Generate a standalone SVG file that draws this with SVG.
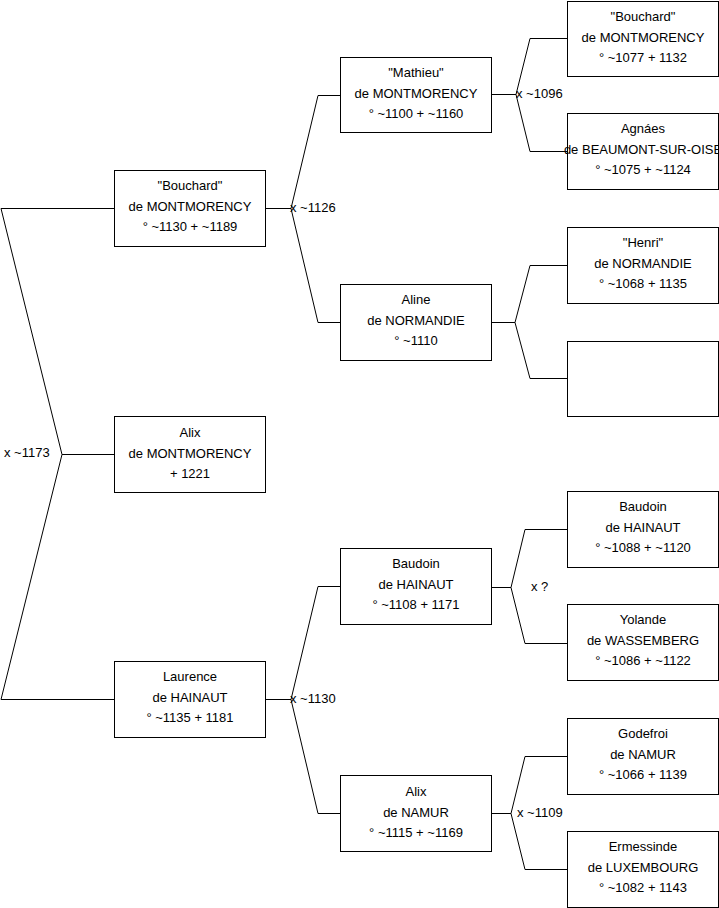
<svg xmlns="http://www.w3.org/2000/svg" width="719" height="908" viewBox="0 0 719 908">
<style>
.b{fill:#fff;stroke:#000;stroke-width:1}
.c{fill:none;stroke:#000;stroke-width:1}
text{font-family:"Liberation Sans",Arial,sans-serif;font-size:13px;fill:#000}
.m{text-anchor:middle}
</style>
<rect width="719" height="908" fill="#fff"/>
<g id="connectors">
<path class="c" d="M1,208.5H114M1,208.5L62,454.5L1,699.5H114M62,454.5H114"/>
<path class="c" d="M265,208.5H291M318,95.5H340M291,208.5L318,95.5M291,208.5L318,322.5H340"/>
<path class="c" d="M265,699.5H291M318,586.5H340M291,699.5L318,586.5M291,699.5L318,813.5H340"/>
<path class="c" d="M491,94.5H516L530,38.5H567M516,94.5L530,151.5H567"/>
<path class="c" d="M491,322.5H515L530,265.5H567M515,322.5L530,378.5H567"/>
<path class="c" d="M491,587.5H511L525,529.5H567M511,587.5L525,643.5H567"/>
<path class="c" d="M491,813.5H511L525,756.5H567M511,813.5L525,869.5H567"/>
<text x="4" y="457">x ~1173</text>
<text x="290" y="212">x ~1126</text>
<text x="290" y="703">x ~1130</text>
<text x="516" y="98">x ~1096</text>
<text x="531" y="591">x ?</text>
<text x="517" y="817">x ~1109</text>
</g>
<g id="n1"><rect class="b" x="114.5" y="170.5" width="151" height="76"/><text class="m" x="190" y="190">"Bouchard"<tspan x="190" dy="20.5">de MONTMORENCY</tspan><tspan x="190" dy="20">° ~1130 + ~1189</tspan></text></g>
<g id="n2"><rect class="b" x="114.5" y="416.5" width="151" height="76"/><text class="m" x="190" y="437">Alix<tspan x="190" dy="20.5">de MONTMORENCY</tspan><tspan x="190" dy="20">+ 1221</tspan></text></g>
<g id="n3"><rect class="b" x="114.5" y="661.5" width="151" height="76"/><text class="m" x="190" y="681">Laurence<tspan x="190" dy="20.5">de HAINAUT</tspan><tspan x="190" dy="20">° ~1135 + 1181</tspan></text></g>
<g id="n4"><rect class="b" x="340.5" y="57.5" width="151" height="75"/><text class="m" x="416" y="77">"Mathieu"<tspan x="416" dy="20.5">de MONTMORENCY</tspan><tspan x="416" dy="20">° ~1100 + ~1160</tspan></text></g>
<g id="n5"><rect class="b" x="340.5" y="284.5" width="151" height="76"/><text class="m" x="416" y="304">Aline<tspan x="416" dy="20.5">de NORMANDIE</tspan><tspan x="416" dy="20">° ~1110</tspan></text></g>
<g id="n6"><rect class="b" x="340.5" y="548.5" width="151" height="76"/><text class="m" x="416" y="568">Baudoin<tspan x="416" dy="20.5">de HAINAUT</tspan><tspan x="416" dy="20">° ~1108 + 1171</tspan></text></g>
<g id="n7"><rect class="b" x="340.5" y="775.5" width="151" height="76"/><text class="m" x="416" y="796">Alix<tspan x="416" dy="20.5">de NAMUR</tspan><tspan x="416" dy="20">° ~1115 + ~1169</tspan></text></g>
<g id="n8"><rect class="b" x="567.5" y="1.5" width="151" height="75"/><text class="m" x="643" y="21">"Bouchard"<tspan x="643" dy="20.5">de MONTMORENCY</tspan><tspan x="643" dy="20">° ~1077 + 1132</tspan></text></g>
<g id="n9"><rect class="b" x="567.5" y="113.5" width="151" height="76"/><text class="m" x="643" y="133">Agnáes<tspan x="643" dy="20.5">de BEAUMONT-SUR-OISE</tspan><tspan x="643" dy="20">° ~1075 + ~1124</tspan></text></g>
<g id="n10"><rect class="b" x="567.5" y="227.5" width="151" height="76"/><text class="m" x="643" y="247">"Henri"<tspan x="643" dy="20.5">de NORMANDIE</tspan><tspan x="643" dy="20">° ~1068 + 1135</tspan></text></g>
<g id="n11"><rect class="b" x="567.5" y="341.5" width="151" height="75"/></g>
<g id="n12"><rect class="b" x="567.5" y="491.5" width="151" height="76"/><text class="m" x="643" y="511">Baudoin<tspan x="643" dy="20.5">de HAINAUT</tspan><tspan x="643" dy="20">° ~1088 + ~1120</tspan></text></g>
<g id="n13"><rect class="b" x="567.5" y="604.5" width="151" height="76"/><text class="m" x="643" y="624">Yolande<tspan x="643" dy="20.5">de WASSEMBERG</tspan><tspan x="643" dy="20">° ~1086 + ~1122</tspan></text></g>
<g id="n14"><rect class="b" x="567.5" y="718.5" width="151" height="76"/><text class="m" x="643" y="738">Godefroi<tspan x="643" dy="20.5">de NAMUR</tspan><tspan x="643" dy="20">° ~1066 + 1139</tspan></text></g>
<g id="n15"><rect class="b" x="567.5" y="831.5" width="151" height="76"/><text class="m" x="643" y="851">Ermessinde<tspan x="643" dy="20.5">de LUXEMBOURG</tspan><tspan x="643" dy="20">° ~1082 + 1143</tspan></text></g>
</svg>
